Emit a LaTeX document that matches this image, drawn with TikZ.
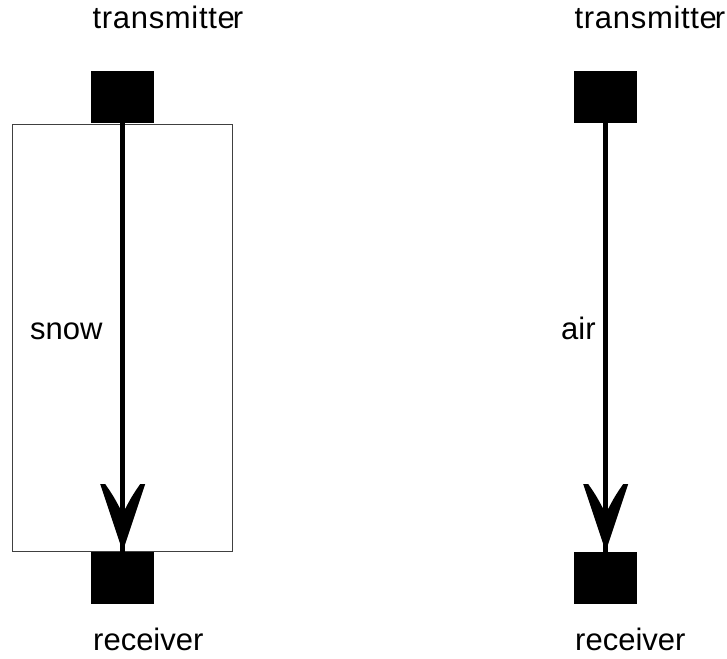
\documentclass[tikz,border=0pt]{standalone}
\usepackage{fontspec}
\setmainfont{Liberation Sans}
\begin{document}
\begin{tikzpicture}[x=1pt,y=-1pt,
  blockbox/.style={fill=black,draw=none,minimum width=63pt,minimum height=52pt,inner sep=0pt,anchor=north west},
  lbl/.style={inner sep=0pt,anchor=base west,font=\fontsize{31pt}{36pt}\selectfont},
  wide/.style={font=\fontsize{31pt}{36pt}\selectfont\addfontfeature{LetterSpace=2.2}},
  shaft/.style={line width=5pt},
  medium/.style={draw=black!75,line width=1pt}]
\useasboundingbox (0,0) rectangle (727,658);
% media box
\node[medium,minimum width=220pt,minimum height=427pt,inner sep=0pt,anchor=north west] (snowbox) at (12,123.5) {};
% left setup
\node[blockbox] (tx1) at (91,71) {};
\node[blockbox] (rx1) at (91,551.5) {};
\node[lbl,wide] (tl1) at (92.5,29) {transmitte\kern-2ptr};
\node[lbl] (rl1) at (93,650) {receiver};
\node[lbl] (snow) at (30,339) {snow};
\draw[shaft] (tx1.south) -- (rx1.north);
\fill[shift={(rx1.north)}] (0,0) -- (-22.5,-67.5) -- (-17.5,-67.5) .. controls (-9,-55) .. (0,-38) .. controls (9,-55) .. (17.5,-67.5) -- (22.5,-67.5) -- cycle;
% right setup
\node[blockbox] (tx2) at (574,71) {};
\node[blockbox] (rx2) at (574,551.5) {};
\node[lbl,wide] (tl2) at (574.5,29) {transmitte\kern-2ptr};
\node[lbl] (rl2) at (575,650) {receiver};
\node[lbl] (air) at (561,339) {air};
\draw[shaft] (tx2.south) -- (rx2.north);
\fill[shift={(rx2.north)}] (0,0) -- (-22.5,-67.5) -- (-17.5,-67.5) .. controls (-9,-55) .. (0,-38) .. controls (9,-55) .. (17.5,-67.5) -- (22.5,-67.5) -- cycle;
\end{tikzpicture}
\end{document}
